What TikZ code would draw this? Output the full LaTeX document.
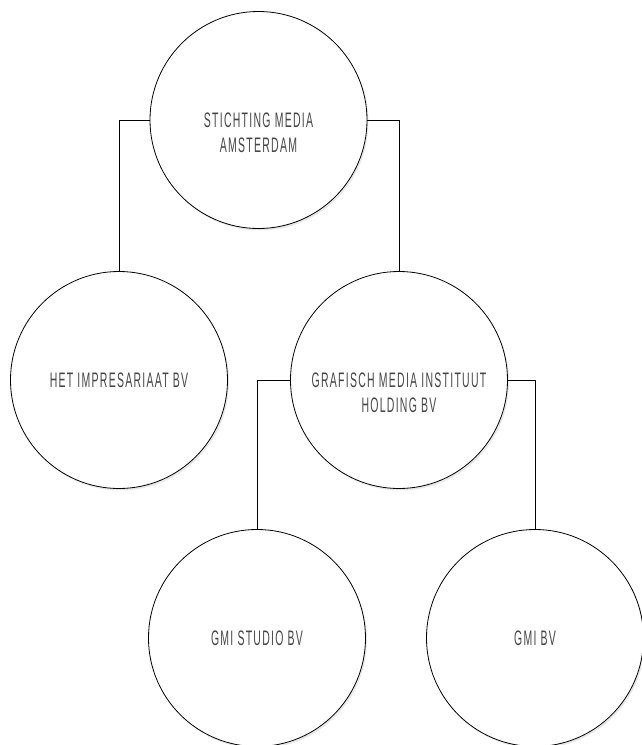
\documentclass[tikz,border=0pt]{standalone}
\usepackage{fontspec}
\newfontfamily\orgfont[FakeStretch=0.5,LetterSpace=6]{Liberation Sans}
\usetikzlibrary{shadows}
\newcommand{\liftrow}{\rule{0pt}{40pt}}

\begin{document}
\begin{tikzpicture}[x=1pt,y=-1pt]
	\tikzset{orgcircle/.style={circle,draw,line width=0.8pt,fill=white,minimum size=217pt,inner sep=0pt,
		align=center,text=black!72,font=\orgfont\fontsize{21}{25}\selectfont,
		drop shadow={opacity=0.18,shadow xshift=1.5pt,shadow yshift=-2pt}}}

  \useasboundingbox (0,0) rectangle (641,745);

  \node[orgcircle] (sma) at (258.5,120) {\liftrow STICHTING MEDIA\\AMSTERDAM};

  \node[orgcircle] (imp) at (119,380) {HET IMPRESARIAAT BV};
  \node[orgcircle] (gmih) at (399,380) {\liftrow GRAFISCH MEDIA INSTITUUT\\HOLDING BV};

  \node[orgcircle] (studio) at (257,638) {GMI STUDIO BV};
  \node[orgcircle] (gmi) at (535,638) {GMI BV};

  \draw[line width=0.8pt] (sma.west) -| (imp.north);
  \draw[line width=0.8pt] (sma.east) -| (gmih.north);
  \draw[line width=0.8pt] (gmih.west) -| (studio.north);
  \draw[line width=0.8pt] (gmih.east) -| (gmi.north);

\end{tikzpicture}
\end{document}
